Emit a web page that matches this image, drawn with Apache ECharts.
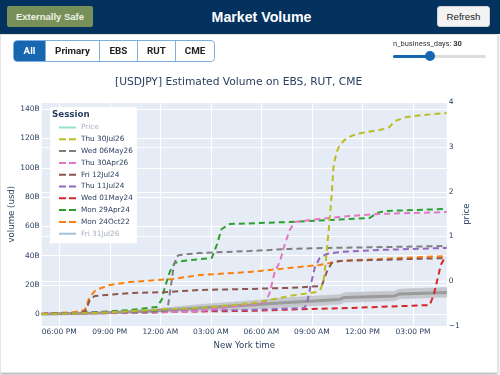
<!DOCTYPE html>
<html>
<head>
<meta charset="utf-8">
<script src="https://cdn.jsdelivr.net/npm/echarts@6/dist/echarts.min.js"></script>
<style>
  html, body { margin: 0; padding: 0; width: 500px; height: 375px; overflow: hidden; background: #fff; font-family: Roboto, "Liberation Sans", sans-serif; }
  #card { position: absolute; left: 0; top: 34px; width: 496px; height: 337px; background: #fff; border: 1px solid #e4e4e4; box-shadow: 0 2px 3px rgba(0,0,0,0.28); z-index: 0; }
  #chart { position: absolute; left: 0; top: 0; width: 500px; height: 375px; z-index: 1; }
  #hdr { position: absolute; left: 0; top: 0; width: 500px; height: 34px; background: #03325f; z-index: 2; }
  #safe { position: absolute; left: 7px; top: 6px; width: 86px; height: 21px; background: #77905a; color: #eef2e6; font: bold 9.5px "Liberation Sans", sans-serif; line-height: 21px; text-align: center; border-radius: 2px; }
  #ttl { position: absolute; left: 0; top: 0; width: 523px; text-align: center; color: #fff; font: bold 14.2px "Liberation Sans", sans-serif; line-height: 34px; }
  #refresh { position: absolute; left: 437px; top: 6px; width: 51px; height: 19px; background: #f3f3f3; border: 1px solid #d4d4d4; border-radius: 3px; color: #222; font: 9.7px "Liberation Sans", sans-serif; line-height: 19px; text-align: center; }
  #tabs { position: absolute; left: 13px; top: 40px; height: 20px; border: 1px solid #7eaee0; border-radius: 4px; overflow: hidden; display: flex; z-index: 2; }
  #tabs div { height: 20px; text-align: center; font: bold 9.8px Roboto, sans-serif; line-height: 20px; color: #222; border-left: 1px solid #7eaee0; box-sizing: border-box; }
  #tabs div:first-child { border-left: none; background: #1667b0; color: #fff; }
  #slab { position: absolute; left: 393px; top: 39px; font: 7.5px Roboto, sans-serif; color: #333; z-index: 2; }
  #track { position: absolute; left: 393px; top: 55px; width: 93px; height: 3px; background: #ddd; border-radius: 2px; z-index: 2; }
  #fill { position: absolute; left: 0; top: 0; width: 37px; height: 3px; background: #1667b0; border-radius: 2px; }
  #knob { position: absolute; left: 425px; top: 51px; width: 10px; height: 10px; border-radius: 50%; background: #1667b0; z-index: 3; }
</style>
</head>
<body>
<div id="card"></div>
<div id="chart"></div>
<div id="hdr">
  <div id="safe">Externally Safe</div>
  <div id="ttl">Market Volume</div>
  <div id="refresh">Refresh</div>
</div>
<div id="tabs">
  <div style="width:31px">All</div><div style="width:54px">Primary</div><div style="width:38px">EBS</div><div style="width:38px">RUT</div><div style="width:39px">CME</div>
</div>
<div id="slab">n_business_days: <b>30</b></div>
<div id="track"><div id="fill"></div></div>
<div id="knob"></div>
<script>
// x = hours since 17:00 New York, y = cumulative volume in billions usd
const mon24Oct22 = [[-0.04,0.2],[1.92,1.6],[2.51,2.9],[2.81,11.8],[3.17,16.6],[4.0,20.0],[5.18,22.0],[7.74,24.1],[9.34,26.8],[12.31,28.9],[14.09,30.9],[16.46,33.7],[17.05,35.0],[17.65,36.4],[21.21,38.4],[24.0,39.8]];
const mon29Apr24 = [[-0.04,0.2],[3.40,1.6],[5.18,2.9],[6.79,5.0],[7.08,9.8],[7.26,18.0],[7.56,28.9],[7.85,35.0],[8.33,36.4],[10.05,38.4],[10.35,47.3],[10.64,58.2],[11.12,61.6],[14.68,63.0],[17.17,64.4],[19.43,65.7],[19.84,69.1],[20.32,70.5],[24.0,71.9]];
const wed01May24 = [[-0.04,0.2],[6.37,1.6],[12.31,2.3],[15.69,3.6],[18.24,4.3],[21.63,5.7],[22.99,6.3],[23.23,13.2],[23.47,24.8],[23.65,33.7],[23.88,38.4]];
const thu11Jul24 = [[-0.04,0.2],[6.37,2.3],[12.31,2.9],[15.57,4.3],[15.75,9.8],[15.93,20.0],[16.16,31.6],[16.46,38.4],[16.88,41.2],[17.65,42.5],[20.02,43.9],[24.0,45.3]];
const fri12Jul24 = [[-0.04,0.2],[2.22,0.9],[2.57,2.3],[2.81,9.8],[3.11,12.5],[3.82,13.2],[5.36,14.5],[7.38,15.2],[9.34,16.6],[12.31,17.3],[14.68,18.0],[16.58,19.3],[16.88,28.9],[17.17,35.0],[17.65,36.4],[24.0,38.4]];
const thu30Apr26 = [[-0.04,0.2],[6.37,0.9],[9.34,2.3],[11.53,5.7],[12.48,7.0],[13.26,8.4],[13.49,14.5],[13.79,28.9],[14.09,35.7],[14.38,47.3],[14.68,57.5],[14.98,63.0],[16.46,65.1],[18.24,67.1],[20.02,68.5],[24.0,69.8]];
const wed06May26 = [[-0.04,0.2],[3.40,0.9],[6.37,1.6],[7.26,2.3],[7.44,4.3],[7.68,23.4],[7.80,33.0],[7.97,39.5],[8.15,40.5],[9.34,41.8],[12.31,43.2],[14.68,44.6],[17.05,45.3],[24.0,46.6]];
const thu30Jul26 = [[-0.04,0.2],[3.40,0.9],[6.37,2.9],[9.34,4.3],[11.30,6.3],[12.48,7.7],[13.49,9.8],[14.68,12.5],[16.28,15.2],[16.52,17.3],[16.70,23.4],[16.82,35.7],[16.94,50.7],[17.05,64.4],[17.17,81.4],[17.29,101.9],[17.47,110.8],[17.65,115.6],[18.06,120.3],[18.66,123.1],[19.25,124.4],[20.02,125.8],[20.62,127.9],[20.91,131.9],[21.63,134.7],[22.57,136.0],[24.0,137.4]];

// typical session: mean and band
const bandHours = [-0.04, 3.40, 6.37, 9.34, 12.31, 14.09, 16.05, 17.65, 17.94, 20.91, 21.21, 24.0];
const bandMean = [0.2, 0.9, 2.3, 4.3, 6.3, 7.7, 9.1, 10.1, 11.5, 12.5, 13.9, 14.9];
const bandLow = [0.1, 0.4, 1.2, 2.0, 3.4, 4.5, 5.8, 6.8, 8.2, 9.2, 10.6, 11.6];
const bandHigh = [0.3, 1.4, 3.4, 6.6, 9.2, 10.9, 12.4, 13.4, 14.8, 15.8, 17.2, 18.3];

// ticks
const timeTicks = [1, 4, 7, 10, 13, 16, 19, 22];
const timeLabels = ['06:00 PM', '09:00 PM', '12:00 AM', '03:00 AM', '06:00 AM', '09:00 AM', '12:00 PM', '03:00 PM'];
const volTicks = [0, 20, 40, 60, 80, 100, 120, 140];
const volLabels = ['0', '20B', '40B', '60B', '80B', '100B', '120B', '140B'];
const priceTicks = [-1, 0, 1, 2, 3, 4];
const priceLabels = ['\u22121', '0', '1', '2', '3', '4'];

const legendOrder = ['Price', 'Thu 30Jul26', 'Wed 06May26', 'Thu 30Apr26', 'Fri 12Jul24', 'Thu 11Jul24', 'Wed 01May24', 'Mon 29Apr24', 'Mon 24Oct22', 'Fri 31Jul26'];
const legendHidden = ['Price', 'Fri 31Jul26'];

const FONT = 'DejaVu Sans';
const TXT = '#2a3f5f';
const FADED = '#a7b0bf';
const ICON_DASH = 'path://M0,0h7v2h-7z M10,0h7v2h-7z';
const ICON_SOLID = 'path://M0,0h17v2h-17z';

const chart = echarts.init(document.getElementById('chart'));

// 세션 라인 (점선)
const dashed = (name, color, data) => ({
  name, type: 'line', data, symbol: 'none', smooth: false,
  color, lineStyle: { color, width: 2, type: [6, 4] },
  emphasis: { disabled: true }
});

const bandRows = bandHours.map((h, i) => [h, bandLow[i], bandHigh[i]]);

const option = {
  animation: false,
  title: [
    { text: '[USDJPY] Estimated Volume on EBS, RUT, CME', left: 115, top: 77, padding: 0,
      textStyle: { fontFamily: FONT, fontSize: 10.7, fontWeight: 'normal', color: TXT } },
    { text: 'Session', left: 52, top: 110, padding: 0, z: 10,
      textStyle: { fontFamily: FONT, fontSize: 8.7, fontWeight: 'bold', color: TXT } }
  ],
  grid: { left: 41.7, right: 53.3, top: 102.3, bottom: 49, backgroundColor: '#e5ecf6', show: true, borderWidth: 0, outerBoundsMode: 'none' },
  legend: {
    orient: 'vertical', left: 50, top: 107, padding: [15, 4, 4, 9],
    backgroundColor: '#fff', itemWidth: 17, itemHeight: 2, itemGap: 0.8,
    selectedMode: false,
    textStyle: { fontFamily: FONT, fontSize: 7.3, color: TXT, lineHeight: 11 },
    data: legendOrder.map(n => legendHidden.includes(n)
      ? { name: n, icon: ICON_SOLID, textStyle: { color: FADED } }
      : { name: n, icon: ICON_DASH })
  },
  xAxis: {
    type: 'value', min: -0.04, max: 24,
    name: 'New York time', nameLocation: 'middle', nameGap: 15, nameMoveOverlap: false,
    nameTextStyle: { fontFamily: FONT, fontSize: 8.6, color: TXT },
    axisLine: { show: false },
    axisTick: { show: false, customValues: timeTicks },
    axisLabel: { customValues: timeTicks, margin: 2, fontFamily: FONT, fontSize: 7.5, color: TXT,
      formatter: v => timeLabels[timeTicks.indexOf(Math.round(v))] || '' },
    splitLine: { show: true, lineStyle: { color: '#fff', width: 1 } }
  },
  yAxis: [
    {
      type: 'value', min: -8, max: 144.7, position: 'left',
      name: 'volume (usd)', nameLocation: 'middle', nameGap: 25, nameMoveOverlap: false,
      nameTextStyle: { fontFamily: FONT, fontSize: 8.6, color: TXT },
      axisLine: { show: false },
      axisTick: { show: false, customValues: volTicks },
      axisLabel: { customValues: volTicks, margin: 2, fontFamily: FONT, fontSize: 7.5, color: TXT,
        formatter: v => volLabels[volTicks.indexOf(Math.round(v))] || '' },
      splitLine: { show: true, lineStyle: { color: '#fff', width: 1 } }
    },
    {
      type: 'value', min: -1, max: 4, interval: 1, position: 'right',
      name: 'price', nameLocation: 'middle', nameGap: 16, nameMoveOverlap: false,
      nameTextStyle: { fontFamily: FONT, fontSize: 8.6, color: TXT },
      axisLine: { show: false },
      axisTick: { show: false },
      axisLabel: { margin: 2, fontFamily: FONT, fontSize: 7.5, color: TXT,
        formatter: v => priceLabels[priceTicks.indexOf(Math.round(v))] || '' },
      splitLine: { show: true, lineStyle: { color: '#fff', width: 1 } }
    }
  ],
  series: [
    {
      name: 'band', type: 'custom', data: bandRows, silent: true,
      renderItem: (params, api) => {
        const i = params.dataIndexInside;
        if (i >= bandRows.length - 1) return null;
        const a = api.coord([api.value(0, i), api.value(1, i)]);
        const b = api.coord([api.value(0, i + 1), api.value(1, i + 1)]);
        const c = api.coord([api.value(0, i + 1), api.value(2, i + 1)]);
        const d = api.coord([api.value(0, i), api.value(2, i)]);
        return { type: 'polygon', shape: { points: [a, b, c, d] }, style: { fill: '#c4c7cd', stroke: '#c4c7cd', lineWidth: 0.6 } };
      }
    },
    {
      name: 'mean', type: 'line', data: bandHours.map((h, i) => [h, bandMean[i]]),
      symbol: 'none', lineStyle: { color: '#9b9b9b', width: 3 }, silent: true
    },
    { name: 'Fri 31Jul26', type: 'line', data: [], symbol: 'none', color: '#a3bfd9', lineStyle: { color: '#a3bfd9', width: 2 } },
    dashed('Mon 24Oct22', '#ff7f0e', mon24Oct22),
    dashed('Mon 29Apr24', '#2ca02c', mon29Apr24),
    dashed('Wed 01May24', '#d62728', wed01May24),
    dashed('Thu 11Jul24', '#9467bd', thu11Jul24),
    dashed('Fri 12Jul24', '#8c564b', fri12Jul24),
    dashed('Thu 30Apr26', '#e377c2', thu30Apr26),
    dashed('Wed 06May26', '#7f7f7f', wed06May26),
    dashed('Thu 30Jul26', '#bcbd22', thu30Jul26),
    { name: 'Price', type: 'line', yAxisIndex: 1, data: [], symbol: 'none', color: '#93e3cf', lineStyle: { color: '#93e3cf', width: 2 } }
  ]
};

chart.setOption(option);
</script>
</body>
</html>
